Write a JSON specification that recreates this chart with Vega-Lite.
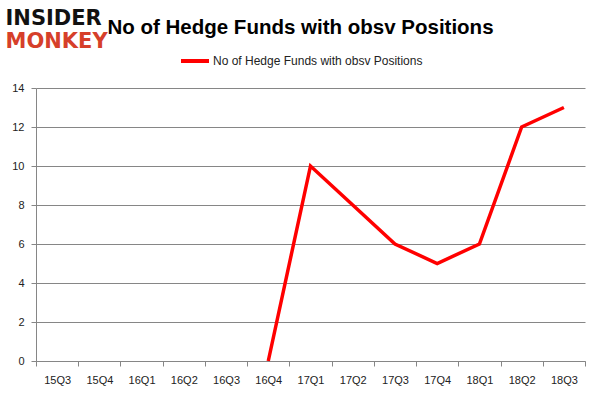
{
  "$schema": "https://vega.github.io/schema/vega-lite/v6.json",
  "width": 549,
  "height": 273,
  "autosize": "none",
  "padding": {"left": 36, "top": 88, "right": 16, "bottom": 34},
  "background": "#ffffff",
  "config": {"view": {"stroke": null}},
  "title": {
    "text": "No of Hedge Funds with obsv Positions",
    "font": "Liberation Sans",
    "fontSize": 20.5,
    "fontWeight": "bold",
    "color": "#000000",
    "anchor": "middle",
    "frame": "group",
    "baseline": "alphabetic",
    "offset": -47,
    "dx": -10
  },
  "data": {
    "values": [
      {"quarter": "15Q3", "funds": null, "series": "No of Hedge Funds with obsv Positions"},
      {"quarter": "15Q4", "funds": null, "series": "No of Hedge Funds with obsv Positions"},
      {"quarter": "16Q1", "funds": null, "series": "No of Hedge Funds with obsv Positions"},
      {"quarter": "16Q2", "funds": null, "series": "No of Hedge Funds with obsv Positions"},
      {"quarter": "16Q3", "funds": null, "series": "No of Hedge Funds with obsv Positions"},
      {"quarter": "16Q4", "funds": 0, "series": "No of Hedge Funds with obsv Positions"},
      {"quarter": "17Q1", "funds": 10, "series": "No of Hedge Funds with obsv Positions"},
      {"quarter": "17Q2", "funds": 8, "series": "No of Hedge Funds with obsv Positions"},
      {"quarter": "17Q3", "funds": 6, "series": "No of Hedge Funds with obsv Positions"},
      {"quarter": "17Q4", "funds": 5, "series": "No of Hedge Funds with obsv Positions"},
      {"quarter": "18Q1", "funds": 6, "series": "No of Hedge Funds with obsv Positions"},
      {"quarter": "18Q2", "funds": 12, "series": "No of Hedge Funds with obsv Positions"},
      {"quarter": "18Q3", "funds": 13, "series": "No of Hedge Funds with obsv Positions"}
    ]
  },
  "mark": {"type": "line", "strokeWidth": 3.5, "strokeJoin": "miter"},
  "encoding": {
    "x": {
      "field": "quarter",
      "type": "ordinal",
      "sort": null,
      "scale": {
        "type": "band",
        "paddingInner": 0,
        "paddingOuter": 0,
        "domain": ["15Q3","15Q4","16Q1","16Q2","16Q3","16Q4","17Q1","17Q2","17Q3","17Q4","18Q1","18Q2","18Q3"]
      },
      "axis": {
        "title": "MONKEY",
        "titleFont": "DejaVu Sans",
        "titleFontSize": 21,
        "titleFontWeight": "bold",
        "titleColor": "#d63f2a",
        "titleX": -31,
        "titleY": -314,
        "titleAlign": "left",
        "titleAnchor": null,
        "titleBaseline": "alphabetic",
        "titleAngle": 0,
        "tickBand": "extent",
        "labelAngle": 0,
        "labelFont": "Liberation Sans",
        "labelFontSize": 11,
        "labelColor": "#222222",
        "labelPadding": 8,
        "domainColor": "#868686",
        "tickColor": "#868686",
        "tickSize": 5,
        "grid": false
      }
    },
    "y": {
      "field": "funds",
      "type": "quantitative",
      "scale": {"domain": [0, 14], "nice": false},
      "axis": {
        "title": "INSIDER",
        "titleFont": "DejaVu Sans",
        "titleFontSize": 21,
        "titleFontWeight": "bold",
        "titleColor": "#111111",
        "titleX": -31,
        "titleY": -64,
        "titleAlign": "left",
        "titleAnchor": null,
        "titleBaseline": "alphabetic",
        "titleAngle": 0,
        "values": [0, 2, 4, 6, 8, 10, 12, 14],
        "labelFont": "Liberation Sans",
        "labelFontSize": 11,
        "labelColor": "#222222",
        "labelPadding": 7,
        "domainColor": "#868686",
        "tickColor": "#868686",
        "tickSize": 5,
        "grid": true,
        "gridColor": "#868686",
        "gridWidth": 1
      }
    },
    "color": {
      "field": "series",
      "type": "nominal",
      "scale": {"range": ["#ff0000"]},
      "legend": {
        "title": null,
        "orient": "none",
        "legendX": 143,
        "legendY": -43,
        "direction": "horizontal",
        "symbolType": "stroke",
        "symbolSize": 784,
        "symbolStrokeWidth": 4,
        "labelFont": "Liberation Sans",
        "labelFontSize": 12,
        "labelColor": "#222222",
        "labelOffset": 2,
        "labelLimit": 0
      }
    }
  }
}
